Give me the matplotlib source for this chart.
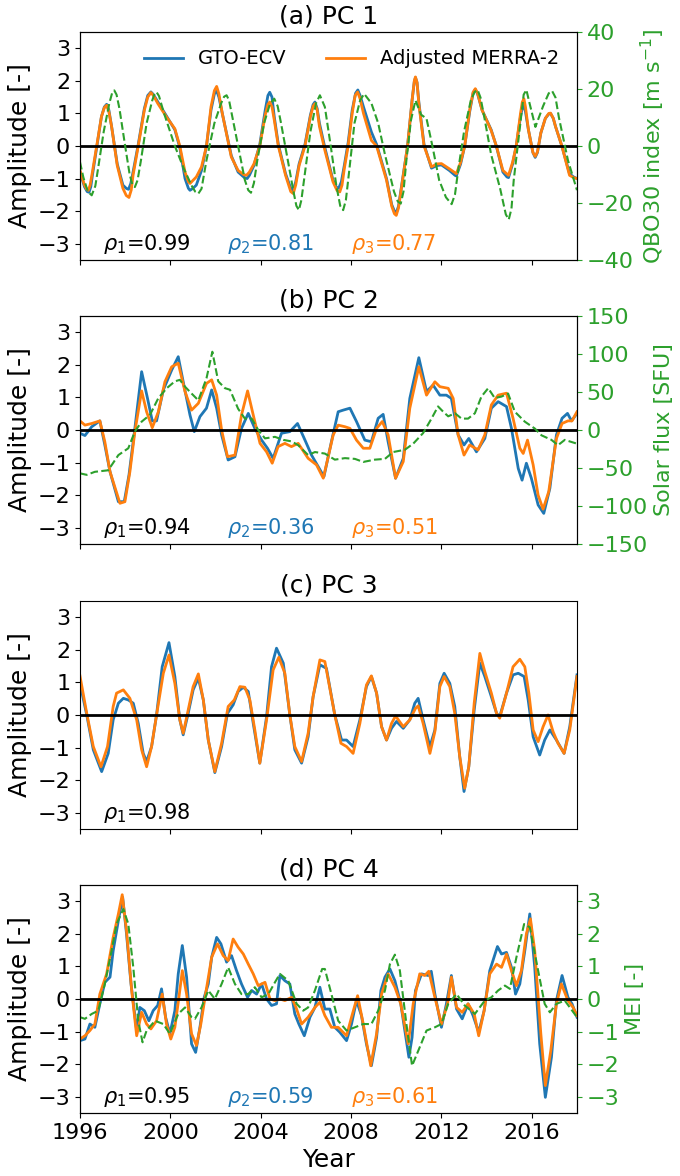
import matplotlib
matplotlib.use("Agg")
import matplotlib.pyplot as plt

# ---- PC 1 ----
pc1_t_gto = [1996.0, 1996.2, 1996.32, 1996.4, 1996.48, 1996.55, 1996.74, 1996.95, 1997.08, 1997.18,
             1997.28, 1997.4, 1997.65, 1997.9, 1998.05, 1998.15, 1998.25, 1998.35, 1998.58, 1998.85,
             1999.0, 1999.14, 1999.25, 1999.45, 1999.83, 2000.2, 2000.42, 2000.65, 2000.8, 2000.87,
             2001.0, 2001.15, 2001.38, 2001.6, 2001.8, 2001.95, 2002.05, 2002.15, 2002.3, 2002.7,
             2003.0, 2003.28, 2003.4, 2003.5, 2003.7, 2003.96, 2004.2, 2004.32, 2004.4, 2004.5,
             2004.6, 2004.78, 2005.1, 2005.33, 2005.44, 2005.55, 2005.7, 2005.96, 2006.2, 2006.32,
             2006.4, 2006.5, 2006.6, 2006.84, 2007.2, 2007.35, 2007.45, 2007.57, 2007.7, 2007.87,
             2008.05, 2008.2, 2008.3, 2008.4, 2008.55, 2008.9, 2009.13, 2009.57, 2009.8, 2009.92,
             2010.0, 2010.1, 2010.25, 2010.5, 2010.7, 2010.8, 2010.85, 2010.92, 2011.0, 2011.23,
             2011.56, 2011.8, 2012.0, 2012.35, 2012.6, 2012.66, 2012.85, 2013.03, 2013.25, 2013.4,
             2013.5, 2013.6, 2013.8, 2014.2, 2014.43, 2014.72, 2014.9, 2014.97, 2015.15, 2015.31,
             2015.5, 2015.58, 2015.65, 2015.72, 2015.85, 2016.05, 2016.15, 2016.25, 2016.4, 2016.6,
             2016.75, 2016.83, 2016.95, 2017.05, 2017.33, 2017.67, 2017.85, 2018.0]
pc1_gto = [-0.8, -1.25, -1.4, -1.42, -1.25, -0.9, -0.05, 0.9, 1.2, 1.28,
           1.1, 0.6, -0.55, -1.2, -1.3, -1.33, -1.15, -0.8, 0.05, 1.15,
           1.55, 1.66, 1.58, 1.35, 0.92, 0.5, -0.05, -1.0, -1.3, -1.36,
           -1.3, -1.2, -0.75, 0.0, 1.1, 1.6, 1.7, 1.5, 1.0, -0.3,
           -0.8, -0.97, -1.0, -0.9, -0.6, 0.05, 1.1, 1.55, 1.65, 1.5,
           0.9, 0.05, -0.85, -1.3, -1.36, -1.1, -0.55, 0.05, 0.95, 1.27,
           1.35, 1.15, 0.7, -0.05, -1.05, -1.26, -1.3, -1.1, -0.6, 0.1,
           1.1, 1.62, 1.72, 1.55, 1.2, 0.43, 0.05, -1.0, -1.8, -2.0,
           -2.05, -1.85, -1.15, 0.0, 1.4, 1.98, 2.1, 1.95, 1.35, 0.05,
           -0.68, -0.6, -0.58, -0.75, -0.9, -0.92, -0.55, 0.0, 1.05, 1.62,
           1.74, 1.6, 1.1, 0.5, 0.0, -0.8, -0.95, -0.97, -0.55, 0.0,
           0.9, 1.17, 1.25, 1.05, 0.5, -0.2, -0.35, -0.2, 0.4, 0.85,
           0.98, 1.0, 0.85, 0.6, 0.0, -0.85, -0.95, -1.0]
pc1_t_merra = [1996.0, 1996.2, 1996.3, 1996.37, 1996.45, 1996.55, 1996.74, 1996.95, 1997.08, 1997.18,
               1997.28, 1997.4, 1997.65, 1997.9, 1998.05, 1998.17, 1998.27, 1998.35, 1998.58, 1998.85,
               1999.0, 1999.14, 1999.25, 1999.45, 1999.83, 2000.2, 2000.42, 2000.65, 2000.8, 2000.87,
               2001.15, 2001.38, 2001.6, 2001.8, 2001.95, 2002.05, 2002.15, 2002.3, 2002.7, 2003.0,
               2003.25, 2003.37, 2003.5, 2003.7, 2003.96, 2004.2, 2004.32, 2004.4, 2004.5, 2004.6,
               2004.78, 2005.1, 2005.33, 2005.44, 2005.55, 2005.7, 2005.96, 2006.2, 2006.32, 2006.4,
               2006.5, 2006.6, 2006.84, 2007.2, 2007.38, 2007.5, 2007.6, 2007.7, 2007.87, 2008.05,
               2008.18, 2008.29, 2008.4, 2008.55, 2008.9, 2009.13, 2009.57, 2009.8, 2009.92, 2010.0,
               2010.1, 2010.25, 2010.5, 2010.7, 2010.8, 2010.85, 2010.92, 2011.0, 2011.23, 2011.56,
               2011.8, 2012.0, 2012.35, 2012.66, 2012.85, 2013.03, 2013.25, 2013.4, 2013.5, 2013.6,
               2013.8, 2014.2, 2014.43, 2014.72, 2014.97, 2015.15, 2015.31, 2015.5, 2015.58, 2015.65,
               2015.72, 2015.85, 2016.05, 2016.15, 2016.25, 2016.4, 2016.6, 2016.75, 2016.83, 2016.95,
               2017.05, 2017.33, 2017.67, 2017.85, 2018.0]
pc1_merra = [-0.75, -1.2, -1.33, -1.36, -1.2, -0.8, 0.0, 0.9, 1.18, 1.25,
             1.05, 0.6, -0.6, -1.3, -1.52, -1.58, -1.35, -0.9, 0.0, 1.1,
             1.5, 1.64, 1.55, 1.3, 0.89, 0.53, 0.0, -0.8, -1.1, -1.15,
             -0.95, -0.64, 0.0, 1.2, 1.7, 1.83, 1.6, 1.0, -0.34, -0.75,
             -0.88, -0.9, -0.8, -0.55, 0.0, 0.95, 1.28, 1.35, 1.2, 0.8,
             0.0, -0.9, -1.4, -1.46, -1.2, -0.6, 0.0, 0.9, 1.22, 1.3,
             1.1, 0.6, -0.13, -1.1, -1.37, -1.41, -1.2, -0.7, 0.0, 1.0,
             1.55, 1.66, 1.45, 1.0, 0.17, 0.0, -1.05, -1.85, -2.08, -2.13,
             -1.9, -1.2, 0.0, 1.4, 2.0, 2.12, 1.95, 1.3, 0.0, -0.64,
             -0.55, -0.54, -0.7, -0.85, -0.5, 0.0, 1.1, 1.65, 1.76, 1.62,
             1.1, 0.48, 0.0, -0.75, -0.9, -0.5, 0.0, 1.0, 1.35, 1.45,
             1.2, 0.5, -0.2, -0.32, -0.18, 0.4, 0.85, 1.0, 1.01, 0.85,
             0.6, 0.0, -0.9, -0.97, -1.0]
qbo_t = [1996.0, 1996.15, 1996.35, 1996.52, 1996.68, 1996.8, 1997.05, 1997.3, 1997.42, 1997.52,
         1997.62, 1997.75, 1998.0, 1998.2, 1998.32, 1998.43, 1998.55, 1998.7, 1998.95, 1999.2,
         1999.3, 1999.39, 1999.5, 1999.7, 1999.95, 2000.2, 2000.6, 2000.95, 2001.1, 2001.24,
         2001.38, 2001.6, 2001.95, 2002.25, 2002.38, 2002.49, 2002.6, 2002.75, 2003.0, 2003.3,
         2003.45, 2003.57, 2003.7, 2003.85, 2004.15, 2004.4, 2004.6, 2004.75, 2004.9, 2005.2,
         2005.45, 2005.58, 2005.69, 2005.8, 2005.95, 2006.2, 2006.45, 2006.62, 2006.84, 2007.1,
         2007.35, 2007.52, 2007.65, 2007.77, 2007.9, 2008.15, 2008.4, 2008.58, 2008.9, 2009.2,
         2009.5, 2009.9, 2010.07, 2010.2, 2010.32, 2010.45, 2010.65, 2010.85, 2011.1, 2011.34,
         2011.6, 2011.9, 2012.2, 2012.45, 2012.6, 2012.75, 2013.0, 2013.3, 2013.47, 2013.6,
         2013.73, 2013.9, 2014.2, 2014.6, 2014.85, 2014.98, 2015.1, 2015.2, 2015.45, 2015.64,
         2015.76, 2015.9, 2016.16, 2016.5, 2016.75, 2016.9, 2017.05, 2017.2, 2017.6, 2018.0]
qbo = [-5.6, -11, -16, -17.3, -14, -8, 5, 15, 18.5, 19.5,
       18, 13, 0, -10, -13.5, -14.4, -12, -5, 8, 16,
       18.3, 18.9, 17.5, 12, 6, 0, -8, -14, -16, -16.7,
       -15, -5, 8, 15, 17.3, 17.8, 16, 10, 0, -12,
       -15.5, -16.4, -13, -5, 8, 14.5, 16.6, 14, 8, -5,
       -16, -21, -22.5, -19, -10, 5, 15, 17.8, 13.7, 0,
       -14, -21, -22.5, -19, -10, 8, 16, 18.3, 15, 8,
       -3, -16, -19.5, -20.2, -16, -5, 9, 16.0, 11, 9.6,
       0, -12, -18, -20.4, -17, -8, 5, 16, 19, 19.7,
       17, 10, -3, -15, -24, -25.8, -22, -12, 5, 18,
       19.7, 15, 6.7, 14, 18.5, 19.3, 17, 10, -5, -15.5]

# ---- PC 2 ----
pc2_t_gto = [1996.0, 1996.22, 1996.52, 1996.88, 1997.1, 1997.33, 1997.7, 1997.96, 1998.17, 1998.43,
             1998.73, 1998.99, 1999.2, 1999.39, 1999.69, 2000.06, 2000.35, 2000.57, 2000.87, 2001.06,
             2001.31, 2001.6, 2001.83, 2002.05, 2002.27, 2002.56, 2002.86, 2003.15, 2003.45, 2003.74,
             2004.04, 2004.3, 2004.55, 2004.92, 2005.29, 2005.63, 2005.96, 2006.25, 2006.8, 2007.13,
             2007.43, 2007.65, 2007.95, 2008.24, 2008.61, 2008.9, 2009.2, 2009.42, 2009.64, 2009.97,
             2010.31, 2010.6, 2011.0, 2011.34, 2011.63, 2011.93, 2012.22, 2012.44, 2012.74, 2013.0,
             2013.21, 2013.55, 2013.92, 2014.21, 2014.51, 2014.88, 2015.1, 2015.4, 2015.57, 2015.76,
             2015.98, 2016.28, 2016.53, 2016.8, 2017.09, 2017.34, 2017.58, 2017.76, 2018.0]
pc2_gto = [-0.1, -0.17, 0.1, 0.28, -0.46, -1.28, -2.2, -2.2, -1.38, 0.05,
           1.79, 0.97, 0.28, 0.28, 1.23, 1.84, 2.25, 1.48, 0.46, -0.05,
           0.41, 0.67, 1.23, 0.67, -0.15, -0.92, -0.82, 0.05, 0.51, 0.05,
           -0.31, -0.56, -0.87, -0.1, -0.05, 0.2, -0.31, -0.77, -1.43, -0.36,
           0.56, 0.61, 0.67, 0.26, -0.31, -0.36, 0.36, 0.48, -0.36, -1.48,
           -0.87, 0.97, 2.22, 1.18, 1.38, 1.07, 1.07, 0.97, -0.15, -0.46,
           -0.26, -0.67, -0.26, 0.67, 0.87, 0.72, 0.05, -1.18, -1.54, -1.02,
           -1.48, -2.3, -2.56, -1.79, -0.15, 0.36, 0.51, 0.28, 0.51]
pc2_t_merra = [1996.0, 1996.22, 1996.52, 1996.88, 1997.1, 1997.33, 1997.77, 1997.99, 1998.21, 1998.43,
               1998.73, 1998.95, 1999.2, 1999.47, 1999.76, 2000.06, 2000.35, 2000.65, 2000.94, 2001.24,
               2001.6, 2001.83, 2002.05, 2002.27, 2002.53, 2002.86, 2003.15, 2003.42, 2003.67, 2003.97,
               2004.26, 2004.51, 2004.77, 2005.07, 2005.36, 2005.66, 2006.1, 2006.47, 2006.77, 2007.21,
               2007.43, 2007.73, 2007.95, 2008.24, 2008.54, 2008.83, 2009.13, 2009.38, 2009.64, 2009.97,
               2010.31, 2010.6, 2011.0, 2011.34, 2011.71, 2011.93, 2012.3, 2012.52, 2012.74, 2013.0,
               2013.25, 2013.62, 2013.92, 2014.21, 2014.51, 2014.88, 2015.17, 2015.47, 2015.62, 2015.81,
               2016.06, 2016.28, 2016.5, 2016.75, 2017.09, 2017.34, 2017.6, 2017.78, 2018.0]
pc2_merra = [0.28, 0.15, 0.2, 0.28, -0.36, -1.28, -2.25, -2.2, -1.28, -0.05,
             1.2, 0.56, 0.07, 0.56, 1.48, 1.94, 2.05, 1.18, 0.61, 0.82,
             1.43, 1.54, 1.07, 0.0, -0.82, -0.77, 0.46, 1.2, 0.46, -0.41,
             -0.67, -1.02, -0.51, -0.41, -0.51, -0.41, -0.87, -1.07, -1.48, -0.15,
             0.15, 0.1, 0.05, -0.31, -0.56, -0.56, 0.05, 0.26, -0.15, -1.48,
             -0.97, 0.67, 1.94, 1.07, 1.48, 1.33, 1.28, 0.97, -0.15, -0.77,
             -0.46, -0.61, -0.15, 0.77, 1.07, 1.13, 0.36, -0.56, -0.72, -0.31,
             -1.07, -2.0, -2.43, -1.89, -0.26, 0.2, 0.28, 0.28, 0.56]
flux_t = [1996.0, 1996.3, 1996.66, 1997.25, 1997.7, 1998.14, 1998.43, 1998.73, 1999.1, 1999.47,
          1999.84, 2000.2, 2000.42, 2000.65, 2000.94, 2001.24, 2001.6, 2001.86, 2002.12, 2002.42,
          2002.64, 2003.0, 2003.3, 2003.6, 2003.89, 2004.19, 2004.63, 2005.0, 2005.37, 2005.66,
          2006.1, 2006.4, 2006.84, 2007.28, 2007.73, 2008.17, 2008.54, 2009.05, 2009.5, 2009.86,
          2010.38, 2010.75, 2011.19, 2011.56, 2011.85, 2012.08, 2012.3, 2012.6, 2012.89, 2013.18,
          2013.48, 2013.77, 2014.07, 2014.36, 2014.66, 2014.95, 2015.25, 2015.69, 2016.13, 2016.43,
          2016.87, 2017.16, 2017.46, 2018.0]
flux = [-57, -59, -55, -53, -33, -24, -2, 11, 20, 42,
        55, 64, 66, 57, 48, 39, 68, 103, 64, 55,
        53, 28, 15, 15, 0, -11, -9, -13, -15, -20,
        -33, -29, -31, -39, -37, -38, -42, -39, -38, -29,
        -26, -18, -4, 15, 31, 24, 18, 22, 15, 15,
        22, 44, 55, 42, 44, 48, 24, 11, 2, -7,
        -13, -20, -13, -18]

# ---- PC 3 ----
pc3_t_gto = [1996.0, 1996.3, 1996.59, 1996.96, 1997.25, 1997.47, 1997.7, 1997.92, 1998.14, 1998.36,
             1998.58, 1998.8, 1998.95, 1999.17, 1999.39, 1999.64, 1999.94, 2000.2, 2000.42, 2000.57,
             2000.79, 2001.01, 2001.24, 2001.46, 2001.68, 2001.97, 2002.27, 2002.53, 2002.78, 2003.0,
             2003.23, 2003.45, 2003.67, 2003.96, 2004.26, 2004.48, 2004.7, 2005.0, 2005.29, 2005.51,
             2005.81, 2006.1, 2006.32, 2006.62, 2006.91, 2007.28, 2007.58, 2007.8, 2008.09, 2008.39,
             2008.68, 2008.9, 2009.13, 2009.35, 2009.57, 2009.79, 2010.01, 2010.31, 2010.6, 2010.82,
             2010.97, 2011.19, 2011.49, 2011.71, 2011.93, 2012.12, 2012.37, 2012.59, 2012.81, 2013.0,
             2013.21, 2013.45, 2013.7, 2013.92, 2014.21, 2014.44, 2014.58, 2014.88, 2015.17, 2015.4,
             2015.66, 2015.84, 2016.06, 2016.35, 2016.57, 2016.8, 2017.09, 2017.43, 2017.68, 2018.0]
pc3_gto = [0.97, 0.0, -1.07, -1.74, -1.18, -0.15, 0.36, 0.51, 0.46, 0.36,
           -0.26, -1.18, -1.43, -0.97, 0.0, 1.48, 2.22, 1.18, -0.15, -0.61,
           0.05, 0.77, 1.13, 0.46, -0.77, -1.77, -0.97, 0.05, 0.31, 0.72,
           0.85, 0.72, -0.26, -1.48, -0.05, 1.48, 2.05, 1.59, 0.0, -1.07,
           -1.48, -0.67, 0.56, 1.54, 1.43, 0.0, -0.77, -0.77, -0.97, -0.15,
           0.87, 1.18, 0.67, -0.36, -0.77, -0.41, -0.2, -0.41, -0.15, 0.36,
           0.51, -0.15, -0.97, -0.46, 0.97, 1.28, 0.97, 0.26, -1.28, -2.35,
           -1.59, 0.15, 1.59, 1.18, 0.56, 0.05, -0.05, 0.67, 1.23, 1.28,
           1.18, 0.46, -0.67, -1.23, -0.77, -0.46, -0.77, -1.18, -0.36, 1.23]
pc3_t_merra = [1996.0, 1996.3, 1996.59, 1996.93, 1997.22, 1997.47, 1997.62, 1997.92, 1998.21, 1998.51,
               1998.73, 1998.95, 1999.17, 1999.39, 1999.69, 1999.94, 2000.2, 2000.42, 2000.57, 2000.79,
               2001.01, 2001.24, 2001.46, 2001.68, 2001.97, 2002.27, 2002.56, 2002.83, 2003.08, 2003.3,
               2003.52, 2003.74, 2003.96, 2004.26, 2004.55, 2004.8, 2005.07, 2005.29, 2005.51, 2005.81,
               2006.1, 2006.32, 2006.62, 2006.84, 2007.28, 2007.55, 2007.8, 2008.09, 2008.39, 2008.68,
               2008.9, 2009.13, 2009.35, 2009.57, 2009.79, 2009.97, 2010.31, 2010.6, 2010.85, 2010.97,
               2011.19, 2011.49, 2011.71, 2011.93, 2012.12, 2012.37, 2012.59, 2012.81, 2013.03, 2013.21,
               2013.45, 2013.7, 2013.92, 2014.21, 2014.44, 2014.58, 2014.88, 2015.17, 2015.47, 2015.69,
               2015.87, 2016.06, 2016.28, 2016.5, 2016.72, 2016.94, 2017.16, 2017.43, 2017.68, 2018.0]
pc3_merra = [1.2, 0.05, -0.97, -1.59, -0.97, 0.26, 0.67, 0.77, 0.51, -0.15,
             -1.07, -1.59, -0.97, 0.0, 1.28, 1.84, 0.97, -0.15, -0.56, 0.15,
             0.87, 1.26, 0.46, -0.77, -1.74, -0.87, 0.26, 0.46, 0.87, 0.85,
             0.46, -0.46, -1.48, -0.15, 1.38, 1.77, 1.28, 0.0, -0.97, -1.43,
             -0.56, 0.56, 1.69, 1.64, 0.0, -0.87, -0.97, -1.18, -0.26, 0.92,
             1.2, 0.67, -0.36, -0.77, -0.26, -0.03, -0.36, -0.15, 0.2, 0.28,
             -0.26, -1.18, -0.51, 0.87, 1.18, 0.87, 0.05, -1.28, -2.25, -1.59,
             0.36, 1.89, 1.33, 0.67, 0.05, -0.1, 0.67, 1.48, 1.71, 1.48,
             0.67, -0.46, -0.82, -0.36, 0.0, -0.51, -0.87, -1.18, -0.46, 1.18]

# ---- PC 4 ----
pc4_t_gto = [1996.0, 1996.22, 1996.44, 1996.66, 1996.88, 1997.1, 1997.33, 1997.47, 1997.7, 1997.89,
             1998.06, 1998.26, 1998.51, 1998.65, 1998.85, 1999.05, 1999.24, 1999.44, 1999.61, 1999.79,
             1999.98, 2000.2, 2000.35, 2000.53, 2000.72, 2000.94, 2001.12, 2001.31, 2001.5, 2001.68,
             2001.83, 2002.05, 2002.24, 2002.49, 2002.71, 2002.93, 2003.15, 2003.42, 2003.6, 2003.82,
             2004.04, 2004.26, 2004.48, 2004.7, 2004.85, 2005.07, 2005.29, 2005.51, 2005.69, 2005.93,
             2006.18, 2006.4, 2006.62, 2006.84, 2007.06, 2007.28, 2007.5, 2007.8, 2008.02, 2008.24,
             2008.46, 2008.68, 2008.9, 2009.13, 2009.32, 2009.5, 2009.72, 2009.94, 2010.2, 2010.38,
             2010.56, 2010.7, 2010.85, 2011.12, 2011.41, 2011.55, 2011.71, 2012.0, 2012.22, 2012.44,
             2012.67, 2012.92, 2013.18, 2013.4, 2013.65, 2013.89, 2014.14, 2014.48, 2014.66, 2014.88,
             2015.1, 2015.28, 2015.47, 2015.69, 2015.91, 2016.13, 2016.35, 2016.6, 2016.87, 2017.09,
             2017.34, 2017.6, 2017.78, 2018.0]
pc4_gto = [-1.28, -1.23, -0.77, -0.87, -0.15, 0.51, 0.67, 1.48, 2.41, 3.12,
           2.0, 0.46, -0.97, -0.26, -0.36, -0.67, -0.36, -0.2, 0.31, -0.56,
           -1.07, -0.36, 0.77, 1.64, 0.67, -1.38, -1.64, -0.87, 0.05, 0.46,
           1.28, 1.89, 1.69, 1.13, 1.33, 0.87, 0.46, 0.05, 0.26, 0.15,
           0.46, 0.0, -0.2, -0.15, 0.72, 0.56, 0.46, -0.46, -0.77, -1.13,
           -0.56, -0.26, 0.36, -0.31, -0.31, -0.87, -1.02, -1.28, -0.77, -0.05,
           -0.51, -1.38, -2.05, -1.18, 0.26, 0.67, 0.92, 0.56, -0.15, -0.97,
           -1.79, -1.18, 0.26, 0.77, 0.72, 0.85, 0.15, -0.87, -0.15, 0.72,
           -0.31, -0.61, -0.15, -0.51, -1.02, -0.36, 0.87, 1.61, 1.38, 1.43,
           0.97, 0.15, 0.46, 1.48, 2.61, 0.97, -1.38, -3.02, -1.79, -0.05,
           0.72, 0.05, -0.15, -0.56]
pc4_t_merra = [1996.0, 1996.22, 1996.44, 1996.66, 1996.88, 1997.18, 1997.47, 1997.7, 1997.87, 1998.06,
               1998.29, 1998.51, 1998.73, 1998.95, 1999.14, 1999.39, 1999.64, 1999.83, 2000.02, 2000.2,
               2000.38, 2000.53, 2000.72, 2000.94, 2001.16, 2001.35, 2001.56, 2001.83, 2002.09, 2002.34,
               2002.56, 2002.78, 2003.0, 2003.23, 2003.45, 2003.67, 2003.89, 2004.19, 2004.41, 2004.63,
               2004.85, 2005.07, 2005.37, 2005.59, 2005.81, 2006.1, 2006.4, 2006.62, 2006.84, 2007.13,
               2007.43, 2007.8, 2008.02, 2008.29, 2008.54, 2008.87, 2009.13, 2009.35, 2009.64, 2009.94,
               2010.2, 2010.53, 2010.75, 2011.04, 2011.26, 2011.44, 2011.71, 2012.0, 2012.27, 2012.44,
               2012.67, 2012.92, 2013.18, 2013.45, 2013.65, 2013.89, 2014.14, 2014.44, 2014.66, 2014.88,
               2015.1, 2015.32, 2015.54, 2015.76, 2015.94, 2016.13, 2016.4, 2016.6, 2016.84, 2017.09,
               2017.31, 2017.6, 2017.83, 2018.0]
pc4_merra = [-1.23, -1.13, -0.97, -0.77, 0.15, 0.77, 1.89, 2.61, 3.2, 2.1,
             0.26, -1.13, -0.41, -0.77, -0.92, -0.67, 0.15, -0.77, -1.23, -0.87,
             0.05, 0.87, 0.15, -1.07, -1.43, -0.77, 0.15, 1.28, 1.69, 1.33,
             1.18, 1.84, 1.59, 1.38, 1.07, 0.77, 0.41, 0.51, 0.0, -0.05,
             0.0, -0.05, 0.05, -0.31, -0.77, -0.56, -0.26, -0.1, -0.51, -0.87,
             -0.87, -1.13, -0.56, 0.1, -0.77, -2.05, -1.07, 0.15, 0.77, 0.36,
             -0.15, -1.38, -0.15, 0.77, 0.72, 0.85, 0.05, -0.77, -0.15, 0.67,
             -0.26, -0.41, -0.15, -0.46, -1.13, -0.36, 0.77, 1.07, 0.97, 1.38,
             0.87, 0.41, 0.87, 2.0, 2.46, 1.48, -1.07, -2.66, -1.59, -0.15,
             0.46, -0.05, -0.26, -0.51]
mei_t = [1996.0, 1996.22, 1996.52, 1996.81, 1997.1, 1997.4, 1997.62, 1997.92, 1998.14, 1998.36,
         1998.58, 1998.77, 1998.95, 1999.32, 1999.69, 1999.98, 2000.35, 2000.65, 2000.94, 2001.09,
         2001.38, 2001.68, 2001.97, 2002.27, 2002.56, 2002.86, 2003.15, 2003.45, 2003.74, 2004.04,
         2004.34, 2004.63, 2004.85, 2005.22, 2005.59, 2005.88, 2006.1, 2006.4, 2006.72, 2006.84,
         2007.13, 2007.43, 2007.8, 2008.17, 2008.54, 2008.9, 2009.2, 2009.5, 2009.72, 2009.94,
         2010.16, 2010.45, 2010.7, 2011.04, 2011.34, 2011.71, 2012.0, 2012.3, 2012.67, 2013.03,
         2013.48, 2013.92, 2014.21, 2014.51, 2014.81, 2015.03, 2015.32, 2015.66, 2015.91, 2016.28,
         2016.57, 2016.8, 2017.09, 2017.46, 2018.0]
mei = [-0.56, -0.61, -0.46, -0.36, 0.46, 1.48, 2.3, 2.76, 2.3, 0.97,
       -0.67, -1.33, -0.97, -0.67, -0.77, -1.07, -0.46, -0.26, -0.56, -0.61,
       -0.26, 0.26, 0.0, 0.46, 0.97, 0.46, 0.15, 0.15, 0.36, 0.05,
       0.15, 0.51, 0.77, 0.56, -0.15, -0.36, -0.26, 0.26, 0.92, 0.92,
       0.15, -0.67, -0.97, -0.87, -0.77, -0.77, -0.36, 0.26, 1.07, 1.36,
       0.87, -0.77, -2.05, -1.48, -0.97, -0.87, -0.77, -0.15, 0.15, -0.2,
       -0.46, -0.05, 0.05, 0.26, 0.41, 0.31, 1.28, 2.3, 2.2, 0.87,
       -0.15, -0.41, -0.15, -0.05, -0.56]

rho_labels = [["0.99", "0.81", "0.77"],
              ["0.94", "0.36", "0.51"],
              ["0.98"],
              ["0.95", "0.59", "0.61"]]
titles = ["(a) PC 1", "(b) PC 2", "(c) PC 3", "(d) PC 4"]

blue, orange, green = "tab:blue", "tab:orange", "tab:green"

fig = plt.figure(figsize=(6.8, 11.76), dpi=100)
bottoms = [0.7789, 0.5374, 0.2951, 0.0536]
axes = [fig.add_axes([0.1176, b, 0.7309, 0.1939]) for b in bottoms]

series = [(pc1_t_gto, pc1_gto, pc1_t_merra, pc1_merra),
          (pc2_t_gto, pc2_gto, pc2_t_merra, pc2_merra),
          (pc3_t_gto, pc3_gto, pc3_t_merra, pc3_merra),
          (pc4_t_gto, pc4_gto, pc4_t_merra, pc4_merra)]

for i, ax in enumerate(axes):
    tg, g, tm, m = series[i]
    ax.plot(tg, g, color=blue, lw=2, label="GTO-ECV")
    ax.plot(tm, m, color=orange, lw=2, label="Adjusted MERRA-2")
    ax.axhline(0, color="k", lw=2)
    ax.set_xlim(1996, 2018)
    ax.set_ylim(-3.5, 3.5)
    ax.set_yticks([-3, -2, -1, 0, 1, 2, 3])
    ax.set_xticks(range(1996, 2018, 4))
    ax.tick_params(labelsize=16)
    ax.set_ylabel("Amplitude [-]", fontsize=18)
    ax.set_title(titles[i], fontsize=18)
    if i < 3:
        ax.set_xticklabels([])
    cols = ["k", blue, orange]
    xs = [1997.0, 2002.5, 2008.0]
    for k, r in enumerate(rho_labels[i]):
        ax.text(xs[k], -3.0, r"$\rho_%d$=%s" % (k + 1, r), color=cols[k],
                fontsize=15, ha="left", va="center")

axes[0].legend(loc="upper right", ncol=2, frameon=False, fontsize=14)
axes[3].set_xlabel("Year", fontsize=18)

# right-hand axes with the reference indices
tw = axes[0].twinx()
tw.plot(qbo_t, qbo, color=green, ls="--", lw=1.5)
tw.set_ylim(-40, 40)
tw.set_yticks([-40, -20, 0, 20, 40])
tw.set_ylabel("QBO30 index [m s$^{-1}$]", color=green, fontsize=16)

tw2 = axes[1].twinx()
tw2.plot(flux_t, flux, color=green, ls="--", lw=1.5)
tw2.set_ylim(-150, 150)
tw2.set_yticks([-150, -100, -50, 0, 50, 100, 150])
tw2.set_ylabel("Solar flux [SFU]", color=green, fontsize=16)

tw4 = axes[3].twinx()
tw4.plot(mei_t, mei, color=green, ls="--", lw=1.5)
tw4.set_ylim(-3.5, 3.5)
tw4.set_yticks([-3, -2, -1, 0, 1, 2, 3])
tw4.set_ylabel("MEI [-]", color=green, fontsize=16)

for t in [tw, tw2, tw4]:
    t.tick_params(axis="y", colors=green, labelsize=16)

fig.savefig("out.png", dpi=100)
